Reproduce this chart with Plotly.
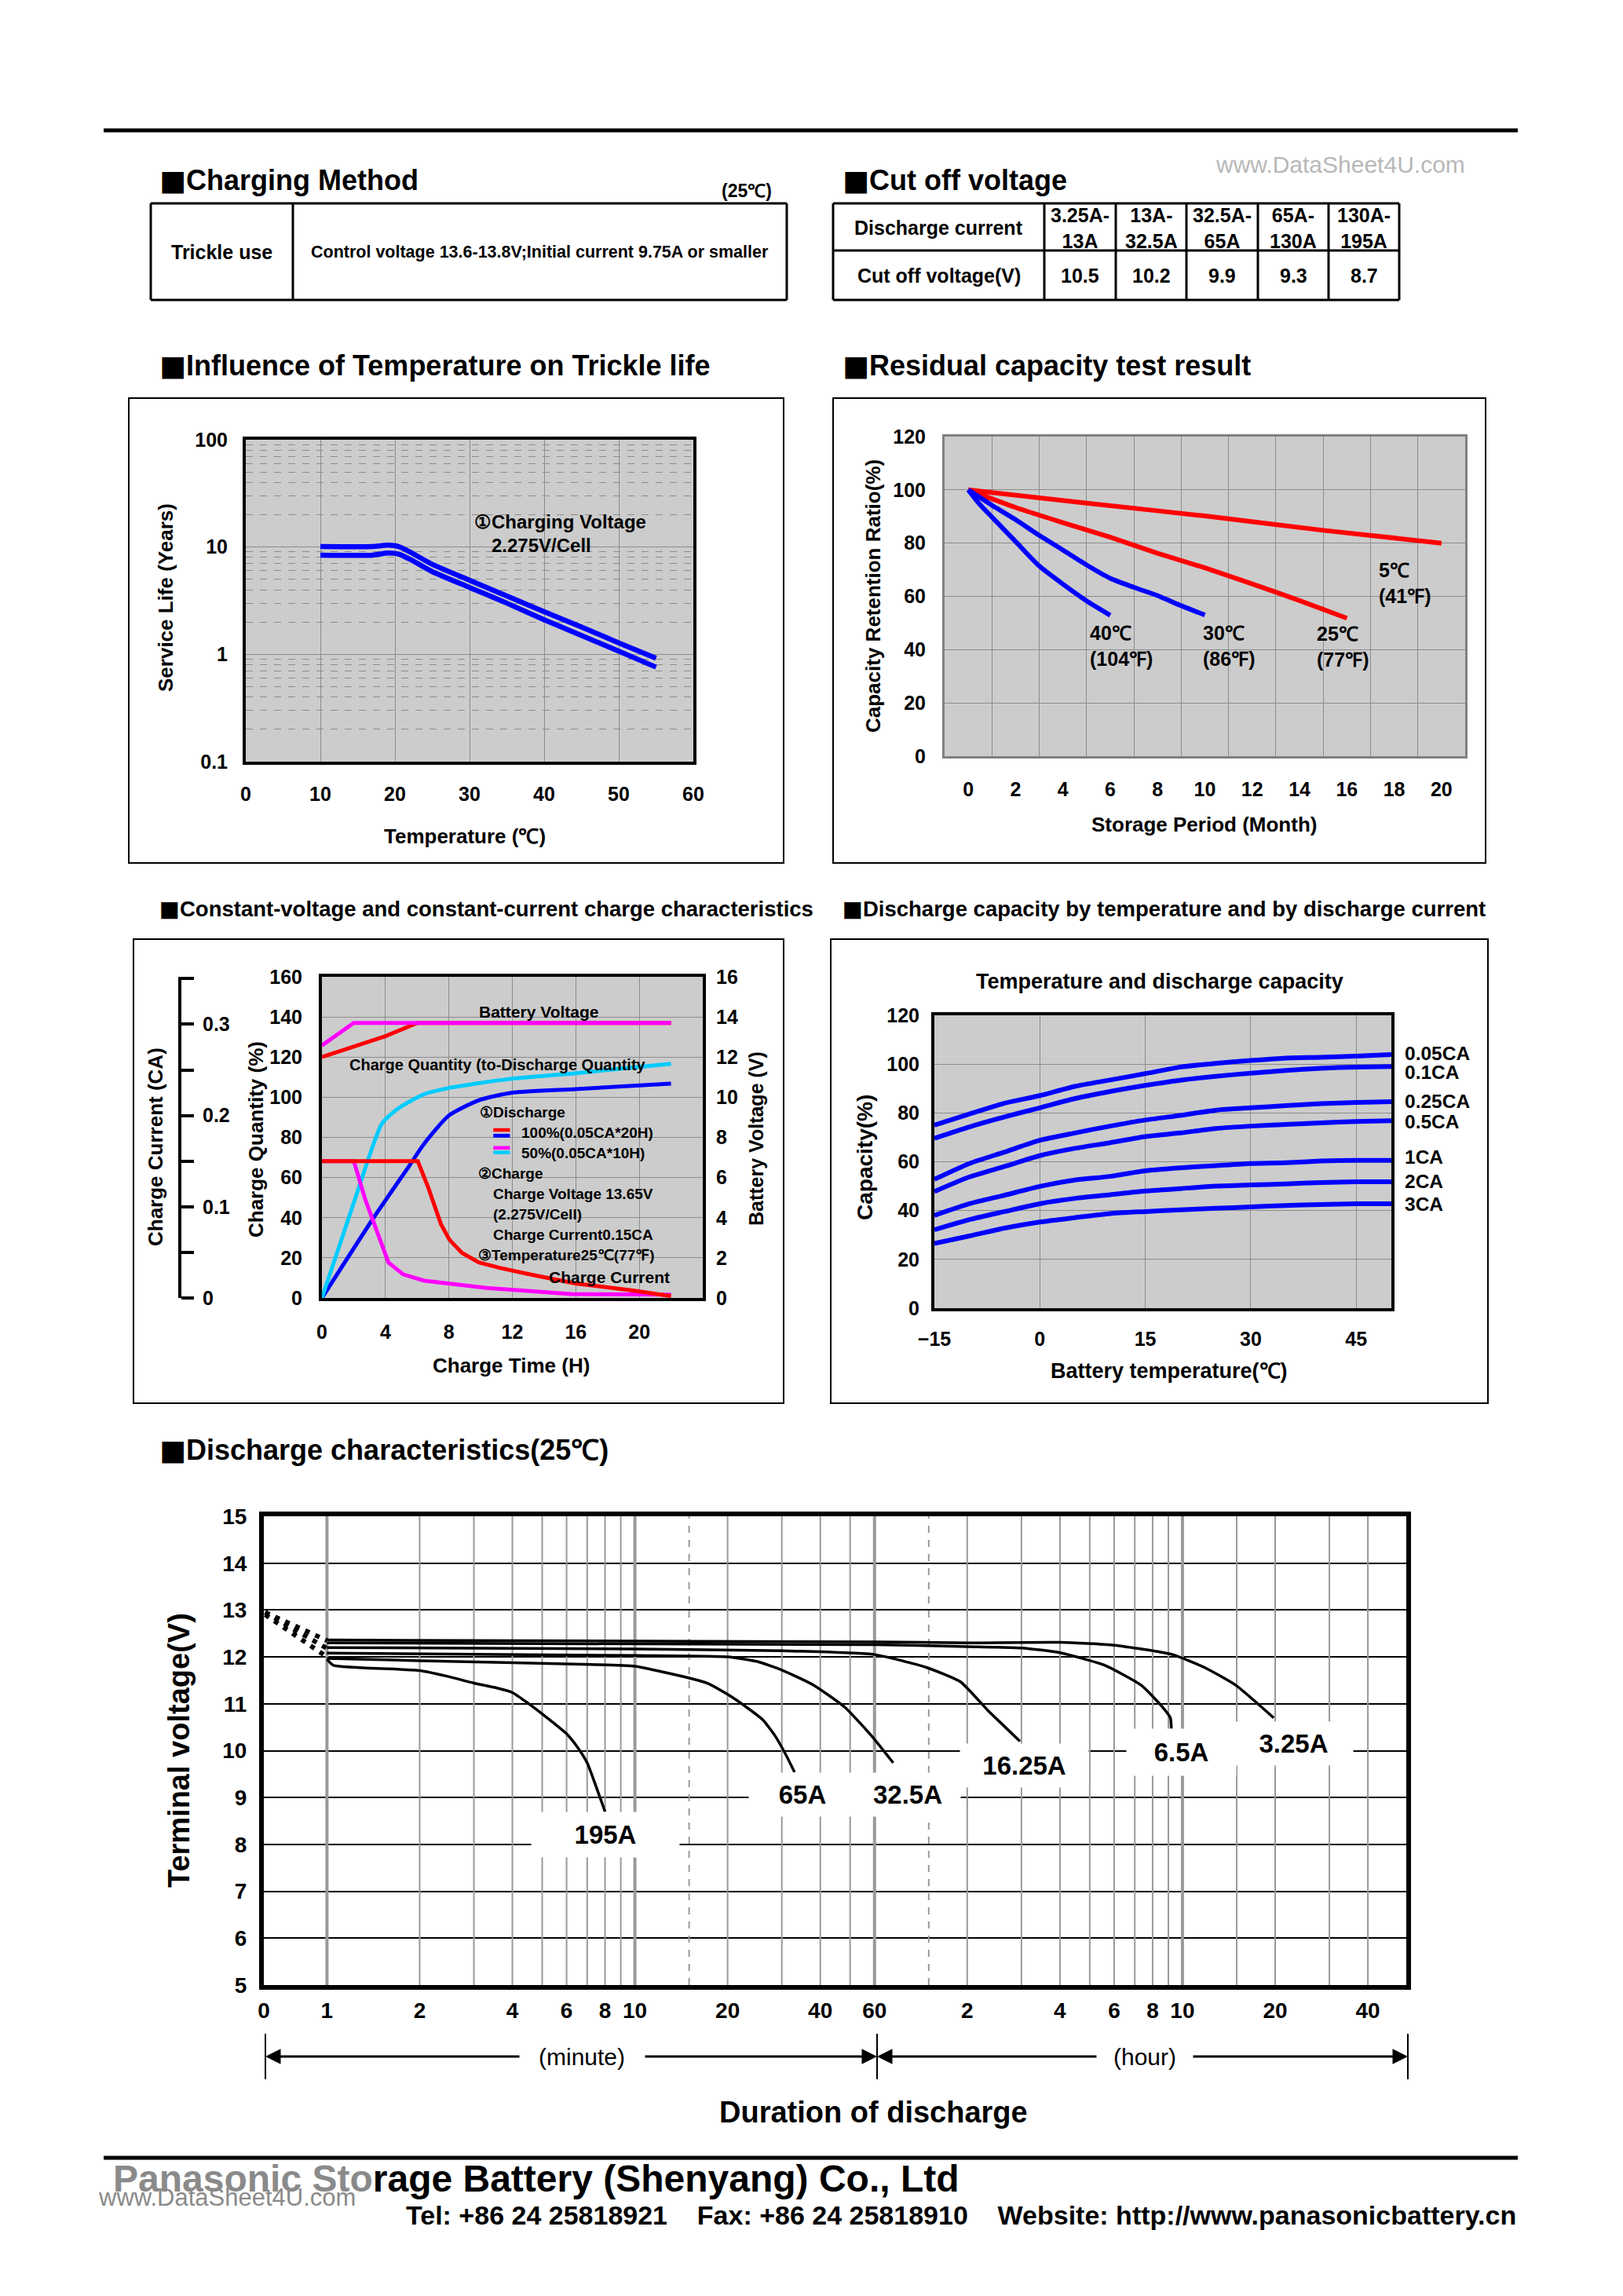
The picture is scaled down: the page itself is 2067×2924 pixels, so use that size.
import math

import plotly.graph_objects as go

W, H = 2067, 2924
SANS = "Liberation Sans, Arial, Helvetica, sans-serif"
BLUE = "#0000ff"
RED = "#ff0000"
MAGENTA = "#ff00ff"
CYAN = "#00ccff"
GRID = "#8c8c8c"
PLOTBG = "#cccccc"
SQ = "<span style='font-family:DejaVu Sans'>■</span>"

# ---- tables
charge_method = ["Trickle use", "Control voltage 13.6-13.8V;Initial current 9.75A or smaller"]
current_ranges = ["3.25A-<br>13A", "13A-<br>32.5A", "32.5A-<br>65A", "65A-<br>130A", "130A-<br>195A"]
cutoff_voltages = ["10.5", "10.2", "9.9", "9.3", "8.7"]

# ---- influence of temperature on trickle life (years)
life_temp = [10, 17, 19, 20.5, 22, 25, 30, 35, 40, 45, 50, 55]
life_upper = [10.1, 10.1, 10.4, 10.1, 9.0, 6.9, 4.9, 3.5, 2.5, 1.8, 1.28, 0.92]
life_lower = [8.4, 8.4, 8.8, 8.6, 7.7, 5.9, 4.2, 3.0, 2.1, 1.5, 1.07, 0.76]

# ---- residual capacity (month, %)
res_5c_m = [0, 5, 10, 15, 20]
res_5c = [100, 95, 90.2, 84.8, 80]
res_25c_m = [0, 2, 4, 6, 8, 10, 12, 14, 16]
res_25c = [100, 93.4, 87.7, 82.2, 76.2, 70.7, 64.7, 58.4, 51.8]
res_30c_m = [0, 1, 2, 3, 4, 5, 6, 7, 8, 9, 10]
res_30c = [100, 94.2, 88.8, 82.9, 77.4, 71.8, 66.8, 63.4, 60.3, 56.5, 53]
res_40c_m = [0, 0.5, 1, 2, 3, 4, 5, 6]
res_40c = [100, 94.4, 89.8, 80.6, 71.4, 64.6, 58.3, 52.9]

# ---- CV/CC charge characteristics (hours)
v100_h = [0, 2, 4, 6, 22]
v100 = [12.0, 12.5, 13.04, 13.7, 13.7]
v50_h = [0, 2, 22]
v50 = [12.58, 13.7, 13.7]
q100_h = [0, 3.26, 5.5, 6.4, 8.0, 9.9, 12, 16, 22]
q100 = [0, 40, 65.8, 76.4, 90.9, 98.5, 102.3, 104.1, 106.8]
q50_h = [0, 2.2, 3.79, 4.85, 6.44, 8.0, 11.7, 16, 22]
q50 = [0, 52, 87, 94.7, 101.5, 104.6, 109, 112, 116.7]
i100_h = [0, 6.04, 6.7, 7.5, 8.03, 8.82, 9.88, 11.2, 13.06, 15.97, 19.7, 22]
i100 = [0.15, 0.15, 0.121, 0.081, 0.064, 0.0495, 0.039, 0.033, 0.026, 0.016, 0.008, 0.002]
i50_h = [0, 2.01, 2.73, 3.52, 4.19, 5.11, 6.44, 10.4, 15.7, 22]
i50 = [0.15, 0.15, 0.108, 0.071, 0.039, 0.026, 0.019, 0.011, 0.0043, 0.0037]

# ---- discharge capacity vs temperature
cap_temp = [-15, -10, -5, 0, 5, 10, 15, 20, 25, 30, 35, 40, 45, 50]
cap_rates = ["0.05CA", "0.1CA", "0.25CA", "0.5CA", "1CA", "2CA", "3CA"]
cap_values = [
    [75, 79.6, 84, 87.1, 90.9, 93.5, 96.1, 98.8, 100.3, 101.5, 102.5, 102.8, 103.3, 103.9],
    [69.6, 74.3, 78.4, 82.1, 85.9, 88.8, 91.3, 93.4, 95, 96.3, 97.4, 98.3, 98.8, 99],
    [52.8, 59.3, 64, 68.8, 71.8, 74.6, 77.1, 79, 81.1, 82.1, 83, 83.8, 84.3, 84.6],
    [47.8, 53.8, 58.1, 62.5, 65.5, 67.8, 70.3, 71.8, 73.6, 74.6, 75.3, 75.9, 76.5, 76.8],
    [38, 42.8, 46.3, 49.9, 52.5, 54, 56.3, 57.5, 58.4, 59.3, 59.6, 60.3, 60.6, 60.6],
    [32.1, 36.3, 39.6, 42.8, 45, 46.5, 48, 49, 50, 50.5, 50.9, 51.5, 51.8, 51.8],
    [26.5, 29.6, 32.8, 35.3, 37.1, 38.8, 39.6, 40.3, 40.9, 41.5, 42.1, 42.5, 42.8, 42.8],
]
cap_label_y = [104.3, 96.8, 84.9, 76.5, 61.8, 52.1, 42.5]

# ---- discharge characteristics (minutes, volts)
dis_names = ["195A", "65A", "32.5A", "16.25A", "6.5A", "3.25A"]
dis_t = [
    [1, 1.05, 2, 2.45, 3, 3.55, 4, 4.5, 5.1, 6, 6.5, 7, 7.3, 8],
    [1, 2, 7.2, 10, 15, 17.2, 20, 23, 26, 28.5, 31, 33],
    [1, 10, 20, 25, 30, 38, 48, 58.6, 69],
    [1, 10, 30, 60, 88, 114, 140, 178],
    [1, 60, 120, 180, 240, 336, 440, 504, 548, 552],
    [1, 60, 120, 240, 360, 557, 705, 892, 1187],
]
dis_v = [
    [11.95, 11.82, 11.71, 11.59, 11.44, 11.34, 11.24, 11.01, 10.74, 10.36, 10.08, 9.74, 9.43, 8.7],
    [11.97, 11.92, 11.84, 11.8, 11.55, 11.44, 11.2, 10.93, 10.66, 10.32, 9.9, 9.54],
    [12.08, 12.03, 12.0, 11.9, 11.72, 11.4, 10.93, 10.32, 9.74],
    [12.2, 12.17, 12.13, 12.05, 11.78, 11.47, 10.86, 10.2],
    [12.3, 12.26, 12.22, 12.19, 12.09, 11.82, 11.4, 11.01, 10.7, 10.47],
    [12.36, 12.32, 12.3, 12.31, 12.25, 12.05, 11.78, 11.4, 10.7],
]
start_t = [0.63, 1.0]
start_v = [[12.95, 12.35], [12.95, 12.18], [12.9, 12.0]]
label_t = [8.0, 35, 77, 184, 596, 1380]
label_v = [8.2, 9.07, 9.07, 9.68, 9.96, 10.15]
dis_tickvals = [0.624, 1, 2, 4, 6, 8, 10, 20, 40, 60, 120, 240, 360, 480, 600, 1200, 2400]
dis_ticktext = ["0", "1", "2", "4", "6", "8", "10", "20", "40", "60", "2", "4", "6", "8", "10", "20", "40"]
grid_thin = [2, 3, 4, 5, 6, 7, 8, 9, 20, 30, 40, 50, 120, 180, 240, 300, 360, 420, 480, 540, 900, 1200, 1800, 2400]
grid_thick = [1, 10, 60, 600]
grid_dash = [15, 90]

box_w = [186, 134, 132, 161, 137, 149]
box_h = [55, 53, 53, 53, 57, 53]


def dx(x0, x1):
    return [x0 / W, x1 / W]


def dy(top, bottom):
    return [1 - bottom / H, 1 - top / H]


def note(x, y, s, size, bold=True, angle=0, xanchor="center", color="black", **kw):
    d = dict(x=x / W, y=1 - y / H, xref="paper", yref="paper", text=s, showarrow=False,
             font=dict(size=size, family=SANS, color=color, weight="bold" if bold else "normal"),
             textangle=angle, xanchor=xanchor, yanchor="middle")
    d.update(kw)
    return d


def tfont(size=25):
    return dict(size=size, family=SANS, color="black", weight="bold")


def hline(x0, x1, y, w=3):
    return dict(type="line", xref="paper", yref="paper", x0=x0 / W, x1=x1 / W,
                y0=1 - y / H, y1=1 - y / H, line=dict(color="black", width=w))


def vline(x, y0, y1, w=3):
    return dict(type="line", xref="paper", yref="paper", x0=x / W, x1=x / W,
                y0=1 - y1 / H, y1=1 - y0 / H, line=dict(color="black", width=w))


fig = go.Figure()

# chart 1: trickle life
for ys in (life_upper, life_lower):
    fig.add_trace(go.Scatter(x=life_temp, y=ys, mode="lines", xaxis="x", yaxis="y",
                             line=dict(color=BLUE, width=6.5, shape="spline", smoothing=0.6)))

# chart 2: residual capacity
for xs, ys, c in ((res_5c_m, res_5c, RED), (res_25c_m, res_25c, RED),
                  (res_30c_m, res_30c, BLUE), (res_40c_m, res_40c, BLUE)):
    fig.add_trace(go.Scatter(x=xs, y=ys, mode="lines", xaxis="x2", yaxis="y2",
                             line=dict(color=c, width=6, shape="spline", smoothing=0.6)))

# chart 3: CV/CC charge
fig.add_trace(go.Scatter(x=i50_h, y=i50, mode="lines", xaxis="x3", yaxis="y5",
                         line=dict(color=MAGENTA, width=5)))
fig.add_trace(go.Scatter(x=i100_h, y=i100, mode="lines", xaxis="x3", yaxis="y5",
                         line=dict(color=RED, width=5)))
fig.add_trace(go.Scatter(x=q100_h, y=q100, mode="lines", xaxis="x3", yaxis="y3",
                         line=dict(color=BLUE, width=5, shape="spline", smoothing=0.6)))
fig.add_trace(go.Scatter(x=q50_h, y=q50, mode="lines", xaxis="x3", yaxis="y3",
                         line=dict(color=CYAN, width=5, shape="spline", smoothing=0.6)))
fig.add_trace(go.Scatter(x=v100_h, y=v100, mode="lines", xaxis="x3", yaxis="y4",
                         line=dict(color=RED, width=5)))
fig.add_trace(go.Scatter(x=v50_h, y=v50, mode="lines", xaxis="x3", yaxis="y4",
                         line=dict(color=MAGENTA, width=5)))

# chart 4: capacity by temperature
for ys in cap_values:
    fig.add_trace(go.Scatter(x=cap_temp, y=ys, mode="lines", xaxis="x4", yaxis="y6",
                             line=dict(color=BLUE, width=6, shape="spline", smoothing=0.6)))

# chart 5: discharge characteristics
for vals, w, dash in ((grid_thin, 2, "solid"), (grid_thick, 4, "solid"), (grid_dash, 2, "dash")):
    gx, gy = [], []
    for v in vals:
        gx += [v, v, None]
        gy += [5, 15, None]
    fig.add_trace(go.Scatter(x=gx, y=gy, mode="lines", xaxis="x5", yaxis="y7", hoverinfo="skip",
                             line=dict(color="#999999", width=w, dash=dash)))
for sv in start_v:
    fig.add_trace(go.Scatter(x=start_t, y=sv, mode="lines", xaxis="x5", yaxis="y7",
                             line=dict(color="black", width=6, dash="6px,8px")))
for ts, vs in zip(dis_t, dis_v):
    fig.add_trace(go.Scatter(x=ts, y=vs, mode="lines", xaxis="x5", yaxis="y7",
                             line=dict(color="black", width=3.5, shape="spline", smoothing=0.5)))

ann = []
shapes = []

# page rules and chart frames
shapes += [hline(132, 1933, 166, 5), hline(132, 1933, 2748, 5)]
for x0, x1, y0, y1 in ((164, 998, 507, 1099), (1061, 1892, 507, 1099),
                       (170, 998, 1196, 1787), (1058, 1895, 1196, 1787)):
    shapes.append(dict(type="rect", xref="paper", yref="paper", x0=x0 / W, x1=x1 / W,
                       y0=1 - y1 / H, y1=1 - y0 / H, line=dict(color="black", width=2)))
for ax, ya in (("x", "y"), ("x2", "y2"), ("x3", "y3"), ("x4", "y6")):
    shapes.append(dict(type="rect", xref=ax + " domain", yref=ya + " domain", x0=0, x1=1, y0=0, y1=1,
                       fillcolor=PLOTBG, line=dict(width=0), layer="below"))

# table 1: charging method
t1_cols = [192, 373, 1002]
t1_rows = [259, 382]
for y in t1_rows:
    shapes.append(hline(t1_cols[0], t1_cols[-1], y))
for x in t1_cols:
    shapes.append(vline(x, t1_rows[0], t1_rows[-1]))
for i, (s, size) in enumerate(zip(charge_method, (25, 21.5))):
    ann.append(note((t1_cols[i] + t1_cols[i + 1]) / 2, 321, s, size))

# table 2: cut off voltage
t2_cols = [1061, 1330, 1421, 1511, 1602, 1692, 1782]
t2_rows = [259, 319, 382]
for y in t2_rows:
    shapes.append(hline(t2_cols[0], t2_cols[-1], y))
for x in t2_cols:
    shapes.append(vline(x, t2_rows[0], t2_rows[-1]))
for row, yc in ((["Discharge current"] + current_ranges, 290), (["Cut off voltage(V)"] + cutoff_voltages, 351)):
    for i, s in enumerate(row):
        ann.append(note((t2_cols[i] + t2_cols[i + 1]) / 2, yc, s, 25))

# section titles
ann += [
    note(201, 229, SQ + "Charging Method", 36, xanchor="left"),
    note(951, 243, "(25℃)", 23),
    note(1071, 229, SQ + "Cut off voltage", 36, xanchor="left"),
    note(1707, 209, "www.DataSheet4U.com", 30, bold=False, color="#b8b8b8"),
    note(201, 466, SQ + "Influence of Temperature on Trickle life", 36, xanchor="left"),
    note(1071, 466, SQ + "Residual capacity test result", 36, xanchor="left"),
    note(201, 1157, SQ + "Constant-voltage and constant-current charge characteristics", 27.5, xanchor="left"),
    note(1071, 1157, SQ + "Discharge capacity by temperature and by discharge current", 27.5, xanchor="left"),
    note(201, 1847, SQ + "Discharge characteristics(25℃)", 36, xanchor="left"),
]

# chart 1 texts
ann += [
    note(211, 761, "Service Life (Years)", 26, angle=-90),
    note(592, 1065, "Temperature (℃)", 26),
    dict(x=42.2, y=1.236, xref="x", yref="y", text="①Charging Voltage", showarrow=False, font=tfont(24)),
    dict(x=39.6, y=1.018, xref="x", yref="y", text="2.275V/Cell", showarrow=False, font=tfont(24)),
]

# chart 2 texts
ann += [
    note(1112, 759, "Capacity Retention Ratio(%)", 26, angle=-90),
    note(1533, 1050, "Storage Period (Month)", 26),
]
for x, y, s in ((5.07, 41.5, "40℃<br>(104℉)"), (9.84, 41.5, "30℃<br>(86℉)"),
                (14.66, 41.0, "25℃<br>(77℉)"), (17.27, 65.0, "5℃<br>(41℉)")):
    ann.append(dict(x=x, y=y, xref="x2", yref="y2", text=s, showarrow=False, align="left",
                    xanchor="left", font=tfont(25)))

# chart 3 texts
ann += [
    note(198, 1461, "Charge Current (CA)", 26, angle=-90),
    note(326, 1451, "Charge Quantity (%)", 26, angle=-90),
    note(963, 1450, "Battery Voltage (V)", 25, angle=-90),
    note(651, 1739, "Charge Time (H)", 26),
]
for x, y, s, anchor, size in ((13.7, 142.5, "Battery Voltage", "center", 21),
                              (11.1, 116, "Charge Quantity (to-Discharge Quantity", "center", 20),
                              (9.85, 92.4, "①Discharge", "left", 19),
                              (12.45, 82.2, "100%(0.05CA*20H)", "left", 19),
                              (12.45, 72.2, "50%(0.05CA*10H)", "left", 19),
                              (9.75, 62, "②Charge", "left", 19),
                              (10.7, 51.8, "Charge Voltage 13.65V", "left", 19),
                              (10.7, 41.8, "(2.275V/Cell)", "left", 19),
                              (10.7, 31.6, "Charge Current0.15CA", "left", 19),
                              (9.75, 21.4, "③Temperature25℃(77℉)", "left", 19),
                              (18.1, 10.3, "Charge Current", "center", 21)):
    ann.append(dict(x=x, y=y, xref="x3", yref="y3", text=s, showarrow=False, xanchor=anchor,
                    font=tfont(size)))
for c, y0, y1 in ((RED, 82.8, 84.6), (BLUE, 79.9, 81.8), (MAGENTA, 73.9, 75.7), (CYAN, 71.6, 73.4)):
    shapes.append(dict(type="rect", xref="x3", yref="y3", x0=10.8, x1=11.85, y0=y0, y1=y1,
                       fillcolor=c, line=dict(width=0)))

# chart 4 texts
ann += [
    note(1477, 1250, "Temperature and discharge capacity", 27),
    note(1101, 1474, "Capacity(%)", 28, angle=-90),
    note(1489, 1746, "Battery temperature(℃)", 27),
]
for s, y in zip(cap_rates, cap_label_y):
    ann.append(dict(x=1787 / W, y=y, xref="paper", yref="y6", text=s, showarrow=False,
                    xanchor="left", font=tfont(24.5)))

# chart 5 texts
ann += [
    note(228, 2229, "Terminal voltage(V)", 38, angle=-90),
    note(1112, 2690, "Duration of discharge", 38),
    note(741, 2619, "(minute)", 30, bold=False),
    note(1458, 2619, "(hour)", 30, bold=False),
]
for s, t, v, bw, bh in zip(dis_names, label_t, label_v, box_w, box_h):
    ann.append(dict(x=math.log10(t), y=v, xref="x5", yref="y7", text=s, showarrow=False,
                    width=bw, height=bh, bgcolor="white", font=tfont(33)))
for x, tail in ((338, 663), (1117, 820), (1117, 1398), (1793, 1518)):
    ann.append(dict(x=x / W, y=1 - 2619 / H, xref="paper", yref="paper", text="", showarrow=True,
                    ax=tail - x, ay=0, arrowhead=2, arrowsize=1.3, arrowwidth=3, arrowcolor="black"))
for x in (338, 1117, 1793):
    shapes.append(vline(x, 2590, 2648, 2))

# footer
ann += [
    note(142, 2774, "<span style='color:#8a8a8a'>Panasonic Sto</span>rage Battery (Shenyang) Co., Ltd",
         48, xanchor="left"),
    note(123, 2798, "www.DataSheet4U.com", 31, bold=False, xanchor="left", color="#8a8a8a"),
    note(515, 2821, "Tel: +86 24 25818921\u00a0\u00a0\u00a0\u00a0Fax: +86 24 25818910\u00a0\u00a0\u00a0\u00a0"
         "Website: http://www.panasonicbattery.cn", 34, xanchor="left"),
]

frame = dict(showline=True, mirror=True, linecolor="black", linewidth=4, zeroline=False, ticks="")

fig.update_layout(
    width=W, height=H, margin=dict(l=0, r=0, t=0, b=0, autoexpand=False),
    paper_bgcolor="white", plot_bgcolor="white", showlegend=False,
    xaxis=dict(domain=dx(313, 883), anchor="y", range=[0, 60], tickvals=list(range(0, 61, 10)),
               showgrid=True, gridcolor=GRID, tickfont=tfont(), ticklabelstandoff=16, **frame),
    yaxis=dict(domain=dy(560, 970), anchor="x", type="log", range=[-1, 2],
               tickvals=[0.1, 1, 10, 100], ticktext=["0.1", "1", "10", "100"],
               showgrid=True, gridcolor=GRID, tickfont=tfont(), ticklabelstandoff=14,
               minor=dict(tickmode="array",
                          tickvals=[m * d for d in (0.1, 1, 10) for m in range(2, 10)],
                          showgrid=True, gridcolor=GRID, griddash="dash", gridwidth=1),
               **frame),
    xaxis2=dict(domain=dx(1203, 1866), anchor="y2", range=[-1, 21], tickvals=list(range(0, 21, 2)),
                showgrid=False, tickfont=tfont(), ticklabelstandoff=18,
                minor=dict(tickmode="array", tickvals=list(range(1, 21, 2)), showgrid=True,
                           gridcolor=GRID, gridwidth=1),
                **dict(frame, linecolor="#808080", linewidth=3)),
    yaxis2=dict(domain=dy(556, 963), anchor="x2", range=[0, 120], dtick=20, showgrid=True,
                gridcolor=GRID, tickfont=tfont(), ticklabelstandoff=16,
                **dict(frame, linecolor="#808080", linewidth=3)),
    xaxis3=dict(domain=dx(410, 895), anchor="y3", range=[0, 24], tickvals=list(range(0, 21, 4)),
                showgrid=True, gridcolor=GRID, tickfont=tfont(), ticklabelstandoff=18, **frame),
    yaxis3=dict(domain=dy(1244, 1653), anchor="x3", range=[0, 160], dtick=20, showgrid=True,
                gridcolor=GRID, tickfont=tfont(), ticklabelstandoff=16, **frame),
    yaxis4=dict(overlaying="y3", anchor="x3", side="right", range=[0, 16], dtick=2, showgrid=False,
                zeroline=False, tickfont=tfont(), ticklabelstandoff=16),
    yaxis5=dict(overlaying="y3", anchor="free", position=229 / W, side="right", range=[0, 0.352],
                tickvals=[0, 0.05, 0.1, 0.15, 0.2, 0.25, 0.3, 0.35],
                ticktext=["0", "", "0.1", "", "0.2", "", "0.3", ""],
                showgrid=False, zeroline=False, showline=True, linecolor="black", linewidth=4,
                ticks="outside", ticklen=16, tickwidth=4, tickcolor="black", tickfont=tfont(),
                ticklabelstandoff=6),
    xaxis4=dict(domain=dx(1190, 1772), anchor="y6", range=[-15, 50], tickvals=[-15, 0, 15, 30, 45],
                showgrid=True, gridcolor=GRID, tickfont=tfont(), ticklabelstandoff=14, **frame),
    yaxis6=dict(domain=dy(1293, 1666), anchor="x4", range=[0, 120], dtick=20, showgrid=True,
                gridcolor=GRID, tickfont=tfont(), ticklabelstandoff=10, **frame),
    xaxis5=dict(domain=dx(336, 1791), anchor="y7", type="log", range=[-0.205, 3.505],
                tickvals=dis_tickvals, ticktext=dis_ticktext, showgrid=False,
                tickfont=tfont(28), ticklabelstandoff=2, **dict(frame, linewidth=6)),
    yaxis7=dict(domain=dy(1931, 2528), anchor="x5", range=[5, 15], dtick=1, showgrid=True,
                gridcolor="black", gridwidth=1.5, tickfont=tfont(28), ticklabelstandoff=10,
                **dict(frame, linewidth=6)),
    annotations=ann,
    shapes=shapes,
)

fig.write_html("out.html", config={"displayModeBar": False},
               post_script="document.body.style.margin='0';")
